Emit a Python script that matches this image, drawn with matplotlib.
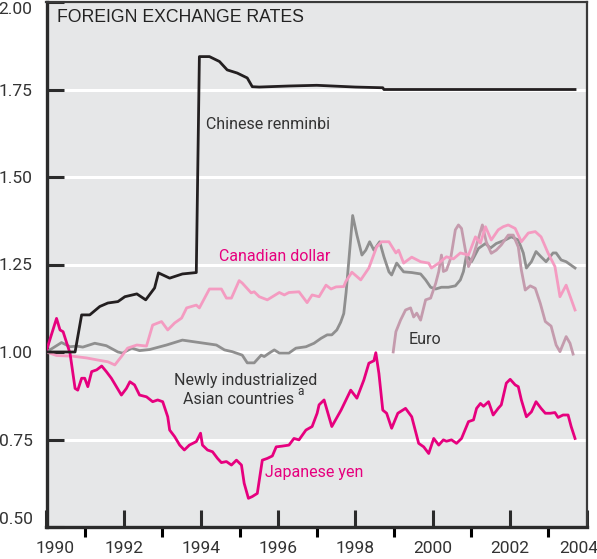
import matplotlib
matplotlib.use('Agg')
import matplotlib.pyplot as plt
import matplotlib.transforms as mtransforms

plt.rcParams['font.family'] = ['Roboto', 'DejaVu Sans']

# Chinese renminbi
cny_yr = [1990.0, 1990.74, 1990.91, 1991.12, 1991.38, 1991.59, 1991.85, 1992.03, 1992.34, 1992.57,
          1992.80, 1992.90, 1993.19, 1993.52, 1993.88, 1993.96, 1994.22, 1994.48, 1994.68, 1994.94,
          1995.20, 1995.33, 1995.51, 1996.28, 1997.0, 1998.0, 1998.71, 1998.74, 2003.69]
cny_val = [1.00, 1.00, 1.106, 1.106, 1.13, 1.14, 1.144, 1.158, 1.166, 1.149,
           1.183, 1.226, 1.211, 1.223, 1.227, 1.844, 1.844, 1.83, 1.806, 1.797,
           1.783, 1.758, 1.757, 1.76, 1.762, 1.757, 1.755, 1.75, 1.75]

# Canadian dollar
cad_yr = [1990.0, 1990.26, 1990.68, 1991.04, 1991.33, 1991.59, 1991.77, 1991.94, 1992.10, 1992.34,
          1992.59, 1992.75, 1992.98, 1993.14, 1993.32, 1993.50, 1993.63, 1993.88, 1993.96, 1994.22,
          1994.53, 1994.66, 1994.79, 1994.99, 1995.07, 1995.30, 1995.38, 1995.51, 1995.72, 1996.03,
          1996.16, 1996.28, 1996.54, 1996.75, 1996.88, 1997.06, 1997.24, 1997.37, 1997.50, 1997.70,
          1997.75, 1997.91, 1998.14, 1998.35, 1998.55, 1998.68, 1998.87, 1999.05, 1999.12, 1999.25,
          1999.46, 1999.69, 1999.90, 1999.97, 2000.16, 2000.36, 2000.54, 2000.72, 2000.93, 2001.11,
          2001.24, 2001.37, 2001.52, 2001.70, 2001.83, 2001.96, 2002.14, 2002.30, 2002.48, 2002.66,
          2002.81, 2002.99, 2003.17, 2003.30, 2003.46, 2003.69]
cad_val = [1.00, 0.99, 0.988, 0.983, 0.977, 0.972, 0.963, 0.987, 1.011, 1.02,
           1.017, 1.077, 1.087, 1.063, 1.083, 1.097, 1.126, 1.134, 1.126, 1.18,
           1.18, 1.154, 1.154, 1.204, 1.197, 1.169, 1.172, 1.158, 1.149, 1.17,
           1.163, 1.17, 1.172, 1.141, 1.163, 1.158, 1.191, 1.18, 1.186, 1.187,
           1.201, 1.228, 1.206, 1.24, 1.30, 1.315, 1.315, 1.283, 1.291, 1.254,
           1.271, 1.258, 1.254, 1.24, 1.254, 1.272, 1.266, 1.283, 1.277, 1.329,
           1.311, 1.358, 1.32, 1.349, 1.358, 1.363, 1.353, 1.315, 1.34, 1.344,
           1.329, 1.283, 1.244, 1.158, 1.191, 1.12]

# Newly industrialized Asian countries
nic_yr = [1990.0, 1990.39, 1990.61, 1990.78, 1990.94, 1991.25, 1991.55, 1991.85, 1991.97, 1992.21,
          1992.41, 1992.67, 1993.11, 1993.52, 1993.96, 1994.40, 1994.61, 1994.81, 1995.07, 1995.20,
          1995.38, 1995.56, 1995.64, 1995.77, 1995.90, 1996.03, 1996.28, 1996.46, 1996.72, 1996.93,
          1997.11, 1997.27, 1997.39, 1997.52, 1997.62, 1997.70, 1997.76, 1997.83, 1997.93, 1998.04,
          1998.17, 1998.27, 1998.37, 1998.48, 1998.63, 1998.74, 1998.87, 1998.94, 1999.07, 1999.25,
          1999.46, 1999.69, 1999.82, 1999.95, 2000.08, 2000.23, 2000.41, 2000.59, 2000.72, 2000.80,
          2000.88, 2001.01, 2001.19, 2001.37, 2001.50, 2001.65, 2001.88, 2002.04, 2002.22, 2002.35,
          2002.43, 2002.56, 2002.68, 2002.81, 2002.94, 2003.12, 2003.20, 2003.33, 2003.46, 2003.69]
nic_val = [1.00, 1.027, 1.015, 1.017, 1.014, 1.025, 1.018, 1.00, 0.997, 1.011,
           1.004, 1.007, 1.02, 1.034, 1.027, 1.02, 1.006, 1.001, 0.991, 0.969,
           0.969, 0.991, 0.987, 0.997, 1.006, 0.997, 0.997, 1.011, 1.015, 1.025,
           1.039, 1.049, 1.049, 1.063, 1.085, 1.11, 1.17, 1.26, 1.39, 1.334,
           1.277, 1.291, 1.315, 1.291, 1.315, 1.272, 1.229, 1.22, 1.254, 1.229,
           1.227, 1.223, 1.206, 1.185, 1.18, 1.185, 1.185, 1.189, 1.206, 1.23,
           1.277, 1.258, 1.296, 1.31, 1.297, 1.31, 1.32, 1.329, 1.32, 1.283,
           1.24, 1.258, 1.287, 1.272, 1.258, 1.283, 1.283, 1.263, 1.258, 1.24]

# Euro
eur_yr = [1998.98, 1999.05, 1999.17, 1999.30, 1999.43, 1999.51, 1999.59, 1999.69, 1999.82, 1999.95,
          2000.08, 2000.16, 2000.23, 2000.28, 2000.36, 2000.47, 2000.59, 2000.67, 2000.75, 2000.85,
          2000.93, 2001.06, 2001.19, 2001.29, 2001.39, 2001.52, 2001.65, 2001.78, 2001.96, 2002.09,
          2002.22, 2002.30, 2002.40, 2002.53, 2002.66, 2002.79, 2002.92, 2003.07, 2003.20, 2003.30,
          2003.46, 2003.56, 2003.64]
eur_val = [1.00, 1.058, 1.091, 1.12, 1.126, 1.10, 1.111, 1.091, 1.149, 1.154,
           1.196, 1.23, 1.277, 1.23, 1.234, 1.268, 1.349, 1.363, 1.353, 1.291,
           1.244, 1.277, 1.325, 1.363, 1.315, 1.282, 1.291, 1.306, 1.334, 1.334,
           1.30, 1.234, 1.177, 1.189, 1.182, 1.139, 1.087, 1.074, 1.02, 1.001,
           1.044, 1.025, 0.994]

# Japanese yen
jpy_yr = [1990.01, 1990.26, 1990.35, 1990.43, 1990.61, 1990.74, 1990.81, 1990.91, 1990.99, 1991.07,
          1991.17, 1991.30, 1991.43, 1991.55, 1991.68, 1991.81, 1991.94, 1992.07, 1992.16, 1992.28,
          1992.41, 1992.59, 1992.75, 1992.88, 1993.01, 1993.14, 1993.19, 1993.32, 1993.45, 1993.57,
          1993.70, 1993.88, 1993.99, 1994.04, 1994.17, 1994.30, 1994.43, 1994.53, 1994.66, 1994.79,
          1994.92, 1995.05, 1995.12, 1995.23, 1995.33, 1995.46, 1995.59, 1995.72, 1995.85, 1995.95,
          1996.10, 1996.28, 1996.41, 1996.54, 1996.72, 1996.88, 1997.01, 1997.06, 1997.19, 1997.39,
          1997.63, 1997.88, 1998.04, 1998.22, 1998.35, 1998.48, 1998.53, 1998.61, 1998.71, 1998.81,
          1998.94, 1999.10, 1999.30, 1999.46, 1999.64, 1999.77, 1999.90, 2000.03, 2000.16, 2000.28,
          2000.36, 2000.49, 2000.62, 2000.75, 2000.93, 2001.06, 2001.14, 2001.24, 2001.32, 2001.45,
          2001.57, 2001.70, 2001.78, 2001.91, 2002.01, 2002.14, 2002.22, 2002.30, 2002.43, 2002.56,
          2002.68, 2002.81, 2002.92, 2003.05, 2003.17, 2003.25, 2003.38, 2003.51, 2003.59, 2003.69]
jpy_val = [1.008, 1.096, 1.063, 1.058, 0.996, 0.896, 0.891, 0.925, 0.925, 0.901,
           0.944, 0.949, 0.96, 0.944, 0.925, 0.901, 0.877, 0.896, 0.915, 0.906,
           0.877, 0.872, 0.858, 0.863, 0.858, 0.815, 0.777, 0.758, 0.734, 0.72,
           0.734, 0.744, 0.768, 0.734, 0.72, 0.715, 0.696, 0.684, 0.687, 0.677,
           0.691, 0.677, 0.625, 0.582, 0.587, 0.596, 0.691, 0.696, 0.703, 0.729,
           0.731, 0.734, 0.753, 0.749, 0.777, 0.787, 0.825, 0.849, 0.863, 0.787,
           0.834, 0.891, 0.868, 0.92, 0.968, 0.975, 0.998, 0.939, 0.834, 0.825,
           0.782, 0.825, 0.839, 0.815, 0.739, 0.729, 0.71, 0.753, 0.734, 0.749,
           0.745, 0.749, 0.739, 0.753, 0.801, 0.806, 0.839, 0.853, 0.845, 0.858,
           0.82, 0.839, 0.849, 0.911, 0.922, 0.906, 0.901, 0.863, 0.815, 0.829,
           0.858, 0.839, 0.825, 0.825, 0.827, 0.813, 0.82, 0.82, 0.787, 0.753]

y_ticks = [0.50, 0.75, 1.00, 1.25, 1.50, 1.75, 2.00]
x_ticks = [1990, 1992, 1994, 1996, 1998, 2000, 2002, 2004]

fig = plt.figure(figsize=(5.97, 5.59), dpi=100)
ax = fig.add_axes([46.5 / 597, 1 - 527 / 559, 540.5 / 597, 525 / 559])
ax.set_facecolor('#E6E7E8')

for v in [0.75, 1.00, 1.25, 1.50, 1.75]:
    ax.axhline(v, color='white', lw=2.2, zorder=1)

lw = 2.0
ax.plot(nic_yr, nic_val, color='#8F8F8F', lw=lw, zorder=3)
ax.plot(eur_yr, eur_val, color='#C49BAD', lw=lw, zorder=3)
ax.plot(cad_yr, cad_val, color='#F49BC1', lw=lw, zorder=3)
ax.plot(jpy_yr, jpy_val, color='#E6007E', lw=lw, zorder=4)
ax.plot(cny_yr, cny_val, color='#231F20', lw=lw, zorder=5)

ax.set_xlim(1990, 2004)
ax.set_ylim(0.5, 2.0)
ax.set_yticks(y_ticks)
ax.set_yticklabels(['%.2f' % v for v in y_ticks])
ax.set_xticks(x_ticks)
ax.set_xticklabels([str(v) for v in x_ticks])
ax.set_xticks(range(1991, 2004, 2), minor=True)

ax.tick_params(axis='both', direction='in', color='#2b2b2b', labelcolor='#333333', labelsize=12.5)
ax.tick_params(axis='y', length=12, width=2.2, pad=10)
ax.tick_params(axis='x', which='major', length=12, width=2.2, pad=10)
ax.tick_params(axis='x', which='minor', length=7, width=2.2)

for side in ['left', 'bottom']:
    ax.spines[side].set_linewidth(2.4)
    ax.spines[side].set_color('#2b2b2b')
for side in ['top', 'right']:
    ax.spines[side].set_linewidth(1.6)
    ax.spines[side].set_color('#3a3a3a')

ylabels = ax.get_yticklabels()
ylabels[0].set_va('bottom')
ylabels[-1].set_va('top')
xlabels = ax.get_xticklabels()
xlabels[0].set_transform(xlabels[0].get_transform() +
                         mtransforms.ScaledTranslation(0.09, 0, fig.dpi_scale_trans))
xlabels[-1].set_transform(xlabels[-1].get_transform() +
                          mtransforms.ScaledTranslation(-0.08, 0, fig.dpi_scale_trans))

dark = '#333333'
ax.text(1990.27, 1.955, 'FOREIGN EXCHANGE RATES', family=['Liberation Sans', 'DejaVu Sans'],
        fontsize=12.7, color='#222222', ha='left', va='center')
ax.text(1995.73, 1.649, 'Chinese renminbi', fontsize=11.5, color=dark, ha='center', va='center')
ax.text(1995.91, 1.274, 'Canadian dollar', fontsize=11.5, color='#E6007E', ha='center', va='center')
ax.text(1999.81, 1.036, 'Euro', fontsize=11.5, color=dark, ha='center', va='center')
ax.text(1995.17, 0.92, 'Newly industrialized', fontsize=11.5, color=dark, ha='center', va='center')
ax.text(1996.41, 0.863, 'Asian countries', fontsize=11.5, color=dark, ha='right', va='center')
ax.text(1996.51, 0.888, 'a', fontsize=8.5, color=dark, ha='left', va='center')
ax.text(1996.94, 0.655, 'Japanese yen', fontsize=11.5, color='#E6007E', ha='center', va='center')

fig.savefig('out.png', dpi=100)
